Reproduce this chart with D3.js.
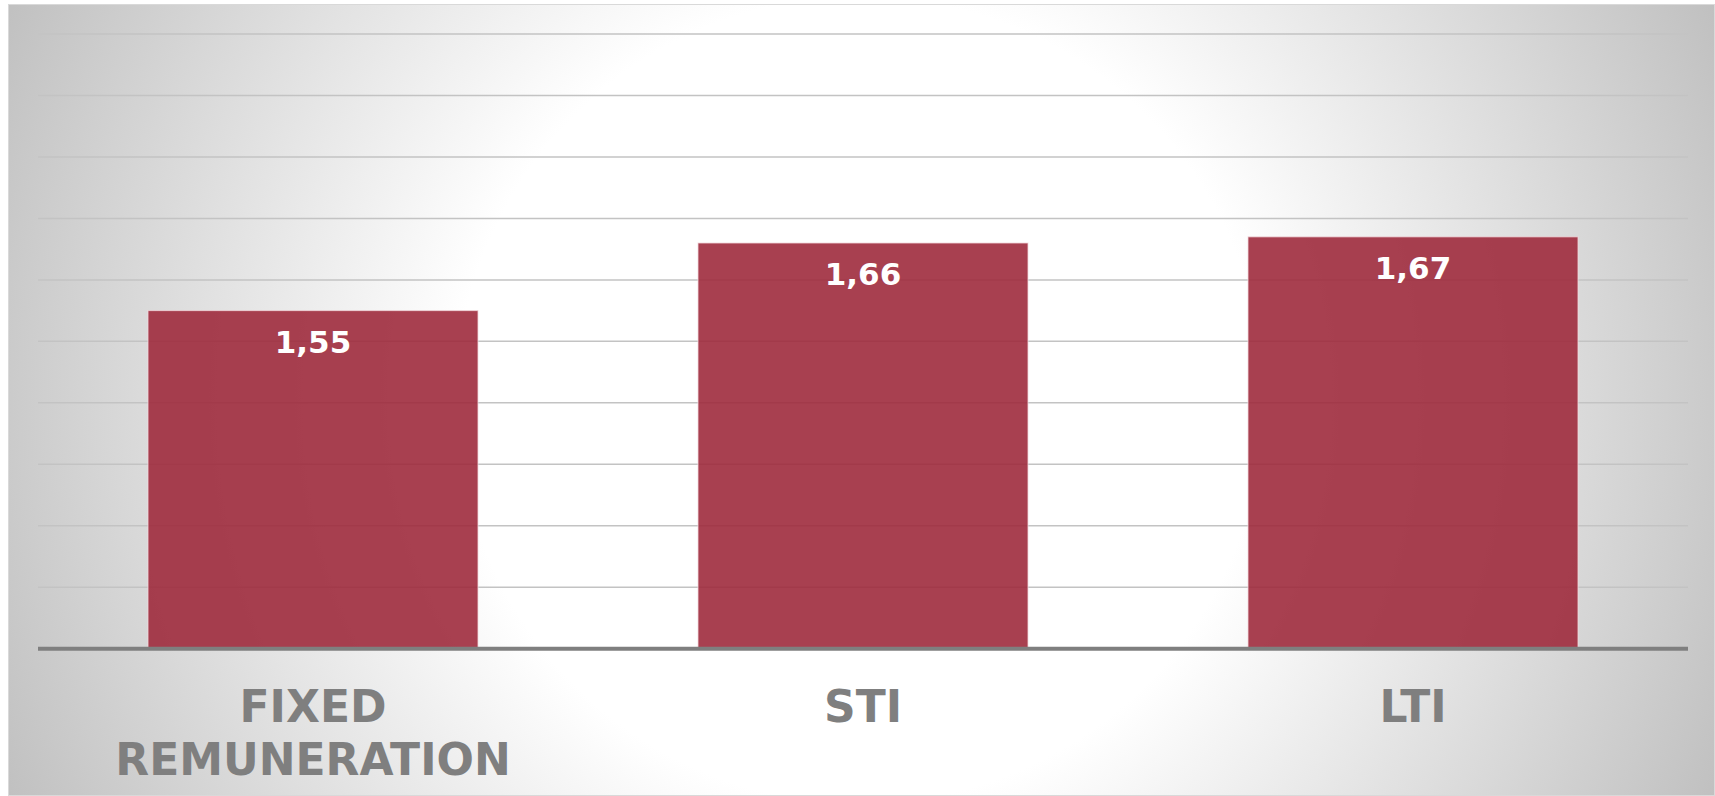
<!DOCTYPE html>
<html>
<head>
<meta charset="utf-8">
<script src="https://cdn.jsdelivr.net/npm/d3@7"></script>
<style>
  html, body { margin: 0; padding: 0; background: #ffffff; }
  svg { display: block; }
</style>
</head>
<body>
<svg id="chart"></svg>
<script>
// chart data
var categories = [["FIXED", "REMUNERATION"], ["STI"], ["LTI"]];
var values = [1.55, 1.66, 1.67];
var gridTicks = [1.0, 1.1, 1.2, 1.3, 1.4, 1.5, 1.6, 1.7, 1.8, 1.9, 2.0];

window.onload = function () {
  var width = 1715;
  var height = 796;

  var svg = d3.select("#chart").attr("width", width).attr("height", height);

  // radial background like the office chart area
  var defs = svg.append("defs");
  var grad = defs
    .append("radialGradient")
    .attr("id", "bg")
    .attr("gradientUnits", "userSpaceOnUse")
    .attr("cx", 860)
    .attr("cy", 400)
    .attr("r", 960);
  grad.append("stop").attr("offset", "0").attr("stop-color", "#ffffff");
  grad.append("stop").attr("offset", "0.42").attr("stop-color", "#ffffff");
  grad.append("stop").attr("offset", "1").attr("stop-color", "#bebebe");

  svg
    .append("rect")
    .attr("x", 8.5)
    .attr("y", 4.5)
    .attr("width", width - 9)
    .attr("height", height - 5)
    .attr("fill", "url(#bg)")
    .attr("stroke", "#d9d9d9")
    .attr("stroke-width", 1);

  var left = 38,
    right = 1688,
    top = 34,
    bottom = 648.7;

  var xScale = d3
    .scaleBand()
    .domain(d3.range(values.length))
    .range([left, right])
    .paddingInner(0.4)
    .paddingOuter(0.2);

  var yScale = d3.scaleLinear().domain([1, 2]).range([bottom, top]);

  // gridlines
  svg
    .append("g")
    .selectAll("line")
    .data(gridTicks.slice(1))
    .enter()
    .append("line")
    .attr("x1", left)
    .attr("x2", right)
    .attr("y1", function (d) {
      return yScale(d);
    })
    .attr("y2", function (d) {
      return yScale(d);
    })
    .attr("stroke", "#c3c3c3")
    .attr("stroke-width", 1.5);

  // bars
  svg
    .append("g")
    .selectAll("rect")
    .data(values)
    .enter()
    .append("rect")
    .attr("x", function (d, i) {
      return xScale(i);
    })
    .attr("y", function (d) {
      return yScale(d);
    })
    .attr("width", xScale.bandwidth())
    .attr("height", function (d) {
      return yScale(1) - yScale(d);
    })
    .attr("fill", "rgb(158,43,61)")
    .attr("fill-opacity", 0.9)
    .attr("stroke", "#f2d9dd")
    .attr("stroke-opacity", 0.8)
    .attr("stroke-width", 1);

  // base axis line
  svg
    .append("line")
    .attr("x1", left)
    .attr("x2", right)
    .attr("y1", yScale(1))
    .attr("y2", yScale(1))
    .attr("stroke", "#7f7f7f")
    .attr("stroke-width", 4);

  // value labels inside the bars
  svg
    .append("g")
    .selectAll("text")
    .data(values)
    .enter()
    .append("text")
    .attr("x", function (d, i) {
      return xScale(i) + xScale.bandwidth() / 2;
    })
    .attr("y", function (d) {
      return yScale(d) + 42;
    })
    .attr("text-anchor", "middle")
    .attr("font-family", "DejaVu Sans, Verdana, sans-serif")
    .attr("font-weight", "bold")
    .attr("font-size", "31px")
    .attr("fill", "#ffffff")
    .text(function (d) {
      return d.toFixed(2).replace(".", ",");
    });

  // category labels
  var catG = svg
    .append("g")
    .selectAll("text")
    .data(categories)
    .enter()
    .append("text")
    .attr("text-anchor", "middle")
    .attr("font-family", "DejaVu Sans, Verdana, sans-serif")
    .attr("font-weight", "bold")
    .attr("font-size", "44px")
    .attr("fill", "#7f7f7f");

  catG
    .selectAll("tspan")
    .data(function (d, i) {
      return d.map(function (s) {
        return { s: s, i: i };
      });
    })
    .enter()
    .append("tspan")
    .attr("x", function (d) {
      return xScale(d.i) + xScale.bandwidth() / 2;
    })
    .attr("y", function (d, j) {
      return 722 + j * 52.5;
    })
    .text(function (d) {
      return d.s;
    });
};
</script>
</body>
</html>
